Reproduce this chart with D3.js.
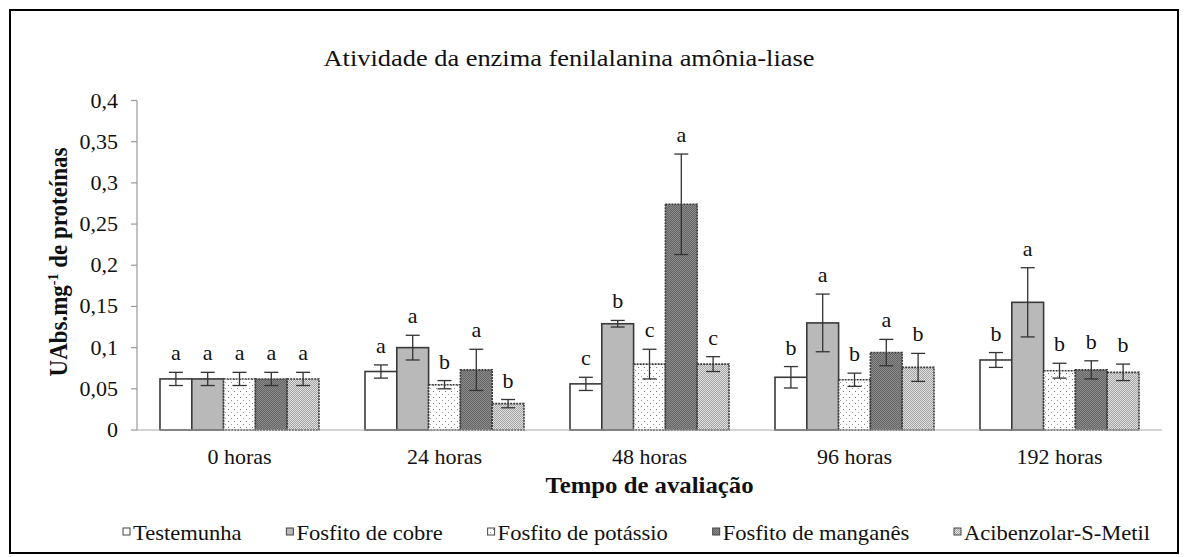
<!DOCTYPE html>
<html lang="pt">
<head>
<meta charset="UTF-8">
<title>Atividade da enzima fenilalanina amônia-liase</title>
<script src="https://d3js.org/d3.v7.min.js"></script>
<style>
  body { margin: 0; background: #fff; }
  svg { display: block; font-family: 'Liberation Serif', 'Times New Roman', serif; }
</style>
</head>
<body>
<div id="chart"></div>
<script>
  // data
  const times = ["0 horas", "24 horas", "48 horas", "96 horas", "192 horas"];
  const treatments = ["Testemunha", "Fosfito de cobre", "Fosfito de potássio", "Fosfito de manganês", "Acibenzolar-S-Metil"];
  const meanTestemunha = [0.062, 0.071, 0.056, 0.064, 0.085];
  const meanCobre      = [0.062, 0.100, 0.129, 0.130, 0.155];
  const meanPotassio   = [0.062, 0.055, 0.080, 0.061, 0.072];
  const meanManganes   = [0.062, 0.073, 0.274, 0.094, 0.073];
  const meanASM        = [0.062, 0.032, 0.080, 0.076, 0.070];
  const errTestemunha = [0.008, 0.008, 0.008, 0.013, 0.009];
  const errCobre      = [0.008, 0.015, 0.004, 0.035, 0.042];
  const errPotassio   = [0.008, 0.005, 0.018, 0.008, 0.009];
  const errManganes   = [0.008, 0.025, 0.061, 0.016, 0.011];
  const errASM        = [0.008, 0.005, 0.009, 0.017, 0.010];
  const letTestemunha = ["a", "a", "c", "b", "b"];
  const letCobre      = ["a", "a", "b", "a", "a"];
  const letPotassio   = ["a", "b", "c", "b", "b"];
  const letManganes   = ["a", "a", "a", "a", "b"];
  const letASM        = ["a", "b", "c", "b", "b"];
  const yTicks = [0, 0.05, 0.1, 0.15, 0.2, 0.25, 0.3, 0.35, 0.4];

  const means = [meanTestemunha, meanCobre, meanPotassio, meanManganes, meanASM];
  const errs = [errTestemunha, errCobre, errPotassio, errManganes, errASM];
  const lets = [letTestemunha, letCobre, letPotassio, letManganes, letASM];

  const width = 1189, height = 557;
  const SX = 1.1; // the original figure is slightly stretched horizontally
  const fills = ["#ffffff", "#b9b9b9", "url(#potassio)", "url(#manganes)", "url(#asm)"];
  const dashes = [null, null, "2,1", "2,1", "2,1"];

  const svg = d3.select("#chart").append("svg")
    .attr("width", width).attr("height", height);

  const defs = svg.append("defs");
  const pPot = defs.append("pattern").attr("id", "potassio")
    .attr("patternUnits", "userSpaceOnUse").attr("width", 6).attr("height", 6);
  pPot.append("rect").attr("width", 6).attr("height", 6).attr("fill", "#fff");
  pPot.append("rect").attr("x", 1).attr("y", 1).attr("width", 1).attr("height", 1).attr("fill", "#777");
  pPot.append("rect").attr("x", 4).attr("y", 4).attr("width", 1).attr("height", 1).attr("fill", "#999");

  const pMan = defs.append("pattern").attr("id", "manganes")
    .attr("patternUnits", "userSpaceOnUse").attr("width", 2).attr("height", 2);
  pMan.append("rect").attr("width", 2).attr("height", 2).attr("fill", "#8a8a8a");
  pMan.append("rect").attr("width", 1).attr("height", 1).attr("fill", "#666");
  pMan.append("rect").attr("x", 1).attr("y", 1).attr("width", 1).attr("height", 1).attr("fill", "#666");

  const pAsm = defs.append("pattern").attr("id", "asm")
    .attr("patternUnits", "userSpaceOnUse").attr("width", 2).attr("height", 2);
  pAsm.append("rect").attr("width", 2).attr("height", 2).attr("fill", "#dedede");
  pAsm.append("rect").attr("width", 1).attr("height", 1).attr("fill", "#a6a6a6");
  pAsm.append("rect").attr("x", 1).attr("y", 1).attr("width", 1).attr("height", 1).attr("fill", "#a6a6a6");

  // helper: place stretched text
  function stext(g, x, y, txt, size, opts = {}) {
    return g.append("text")
      .attr("transform", `translate(${x},${y}) scale(${SX},1)`)
      .attr("font-size", size + "px")
      .attr("text-anchor", opts.anchor || "middle")
      .attr("font-weight", opts.bold ? "bold" : null)
      .attr("fill", "#111")
      .text(txt);
  }

  // frame
  svg.append("rect").attr("x", 10).attr("y", 10)
    .attr("width", 1168).attr("height", 543)
    .attr("fill", "none").attr("stroke", "#000").attr("stroke-width", 2);

  const x0 = 137, x1 = 1162;
  const x = d3.scaleBand().domain(times).range([x0, x1]);
  const groupPad = 23;
  const xi = d3.scaleBand().domain(treatments).range([groupPad, x.bandwidth() - groupPad]);
  const y = d3.scaleLinear().domain([0, 0.4]).range([430, 100.5]);

  stext(svg, 569, 66, "Atividade da enzima fenilalanina amônia-liase", 24);

  // y axis
  svg.append("line").attr("x1", x0).attr("x2", x0).attr("y1", y(0.4)).attr("y2", y(0))
    .attr("stroke", "#9a9a9a").attr("stroke-width", 1.2);
  yTicks.forEach(v => {
    svg.append("line").attr("x1", x0 - 6).attr("x2", x0).attr("y1", y(v)).attr("y2", y(v))
      .attr("stroke", "#9a9a9a").attr("stroke-width", 1.2);
    stext(svg, 118, y(v) + 7, String(v).replace(".", ","), 20, { anchor: "end" });
  });

  // y label with superscript
  const yl = svg.append("text")
    .attr("transform", `translate(67,262) scale(${SX},1) rotate(-90)`)
    .attr("font-size", "23px").attr("font-weight", "bold")
    .attr("text-anchor", "middle").attr("fill", "#111");
  yl.append("tspan").text("UAbs.mg");
  yl.append("tspan").attr("font-size", "14px").attr("dy", -8).text("-1");
  yl.append("tspan").attr("dy", 8).text(" de proteínas");

  // bars
  const groups = svg.selectAll("g.grp").data(times).join("g")
    .attr("class", "grp")
    .attr("transform", d => `translate(${x(d)},0)`);

  treatments.forEach((tr, k) => {
    groups.append("rect")
      .attr("x", xi(tr))
      .attr("y", (d, i) => y(means[k][i]))
      .attr("width", xi.bandwidth())
      .attr("height", (d, i) => y(0) - y(means[k][i]))
      .attr("fill", fills[k])
      .attr("stroke", "#3a3a3a")
      .attr("stroke-width", 1.6)
      .attr("stroke-dasharray", dashes[k]);
  });

  // x axis line
  svg.append("line").attr("x1", x0).attr("x2", x1).attr("y1", y(0)).attr("y2", y(0))
    .attr("stroke", "#aaa").attr("stroke-width", 1.2);

  // error bars and letters
  treatments.forEach((tr, k) => {
    const cx = xi(tr) + xi.bandwidth() / 2;
    groups.each(function (d, i) {
      const g = d3.select(this);
      const top = y(means[k][i] + errs[k][i]);
      const bot = y(means[k][i] - errs[k][i]);
      g.append("line").attr("x1", cx).attr("x2", cx).attr("y1", top).attr("y2", bot)
        .attr("stroke", "#333").attr("stroke-width", 1.3);
      [top, bot].forEach(yy => g.append("line")
        .attr("x1", cx - 7).attr("x2", cx + 7).attr("y1", yy).attr("y2", yy)
        .attr("stroke", "#333").attr("stroke-width", 1.3));
      stext(g, cx, top - 12, lets[k][i], 20);
    });
  });

  // category labels
  times.forEach(t => stext(svg, x(t) + x.bandwidth() / 2, 464, t, 20));
  stext(svg, (x0 + x1) / 2, 493, "Tempo de avaliação", 22.5, { bold: true });

  // legend, entries spread evenly between the two ends
  const legStart = 123, legEnd = 1150, box = 8, boxGap = 2;
  const legend = svg.append("g");
  const items = treatments.map((tr, k) => {
    const t = stext(legend, 0, 540, tr, 20.5, { anchor: "start" });
    return { t, w: box + boxGap + t.node().getComputedTextLength() * SX };
  });
  const gap = (legEnd - legStart - d3.sum(items, d => d.w)) / (items.length - 1);
  let lx = legStart;
  items.forEach((it, k) => {
    legend.append("rect").attr("x", lx).attr("y", 528)
      .attr("width", box - 1).attr("height", box - 1)
      .attr("fill", fills[k]).attr("stroke", "#444").attr("stroke-width", 1);
    it.t.attr("transform", `translate(${lx + box + boxGap},540) scale(${SX},1)`);
    lx += it.w + gap;
  });
</script>
</body>
</html>
